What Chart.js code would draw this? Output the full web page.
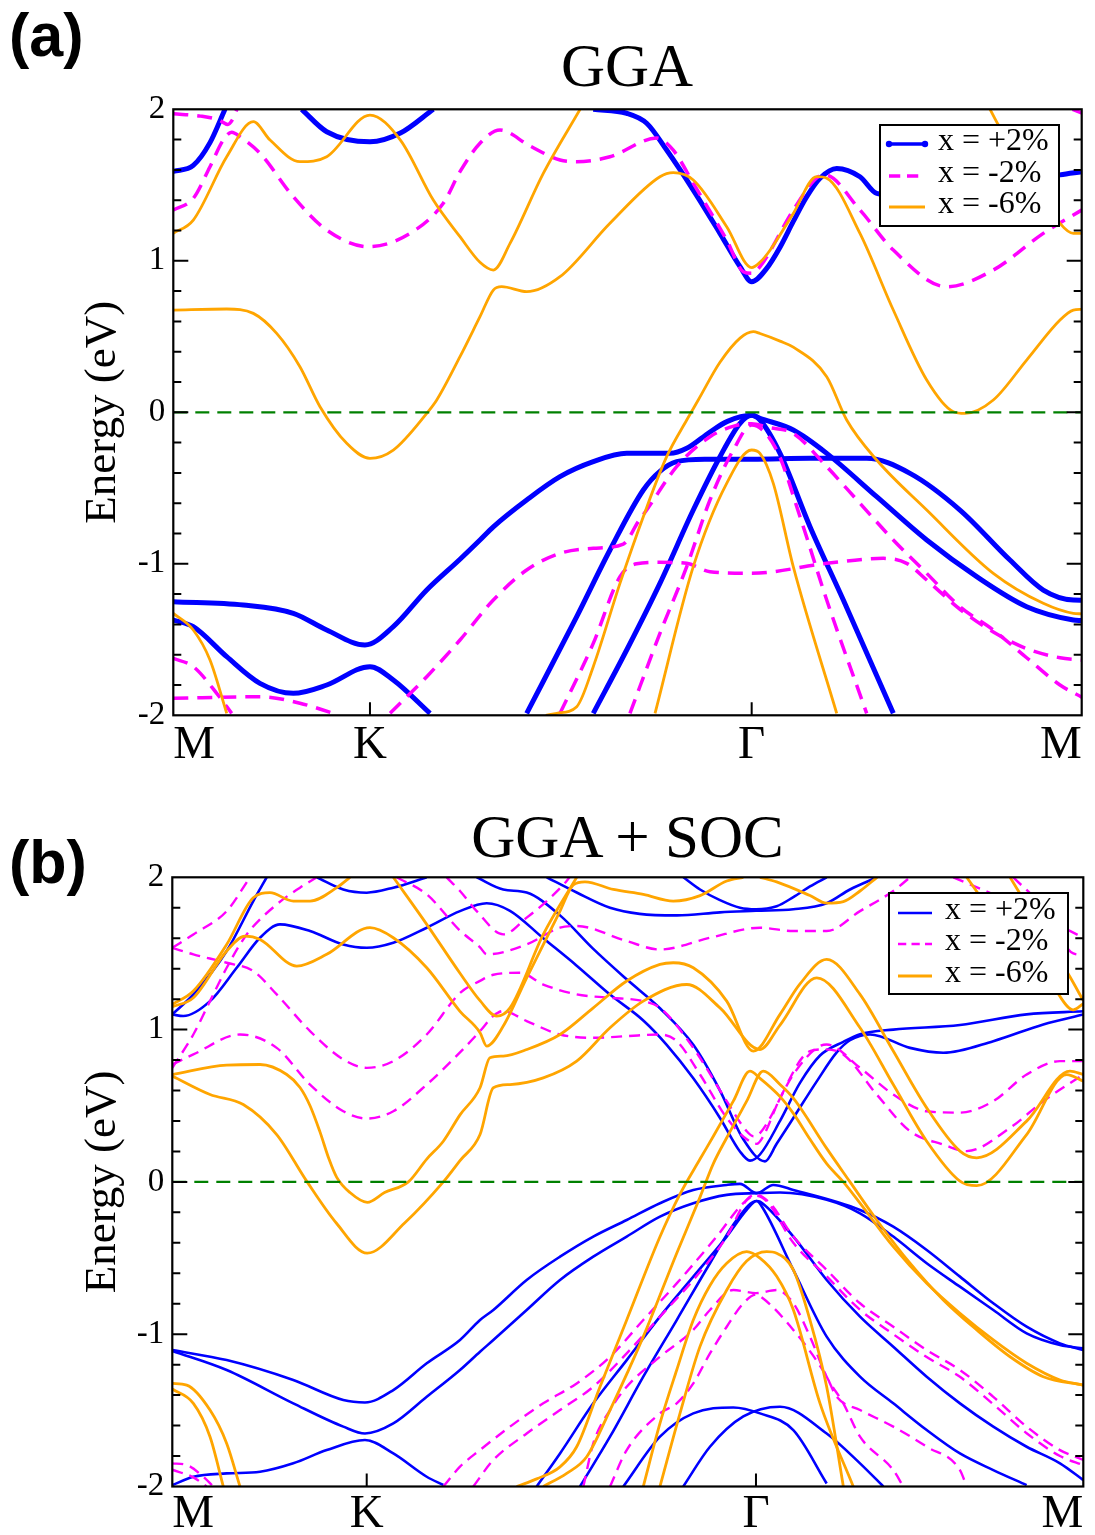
<!DOCTYPE html>
<html>
<head>
<meta charset="utf-8">
<title>Band structure: GGA and GGA + SOC</title>
<script src="https://cdn.jsdelivr.net/npm/chart.js@4.4.1/dist/chart.umd.min.js"></script>
<style>
  html, body { margin: 0; padding: 0; background: #fff; }
  #page { position: relative; width: 1095px; height: 1535px; overflow: hidden; background: #fff; }
  canvas { position: absolute; left: 0; }
  .tag { position: absolute; left: 9px; font-family: 'Liberation Sans', Arial, sans-serif; font-weight: bold; font-size: 61px; line-height: 61px; color: #000; }
  .ttl { position: absolute; font-family: 'Liberation Serif', 'Times New Roman', serif; font-size: 61px; line-height: 61px; text-align: center; color: #000; white-space: nowrap; }
  .legend { position: absolute; border: 2px solid #000; background: #fff; box-sizing: border-box; }
  .legend .row { position: absolute; left: 0; right: 0; height: 32px; }
  .legend svg { position: absolute; }
  .legend span { position: absolute; font-family: 'Liberation Serif', 'Times New Roman', serif; font-size: 32px; line-height: 32px; color: #000; white-space: nowrap; }
</style>
</head>
<body>
<div id="page">
  <canvas id="gga" width="1095" height="770" style="top:0px"></canvas>
  <canvas id="soc" width="1095" height="765" style="top:770px"></canvas>
  <div class="tag" style="top:5px">(a)</div>
  <div class="tag" style="top:832px">(b)</div>
  <div class="ttl" style="left:173px;width:908px;top:35px">GGA</div>
  <div class="ttl" style="left:172px;width:911px;top:806px">GGA + SOC</div>
  <div class="legend" id="legGGA" style="left:879px;top:124px;width:181px;height:103px"></div>
  <div class="legend" id="legSOC" style="left:888px;top:892px;width:181px;height:103px"></div>
</div>
<script>
// k-path: distance along M-K-Γ-M in percent of the full path length
const K_LABELS = ['M', 'K', 'Γ', 'M'];
const K_POS_GGA = [0, 21.65, 63.67, 100];
const K_POS_SOC = [0, 21.34, 64.07, 100];
const Y_TICKS = [-2, -1, 0, 1, 2];
const Y_TICK_LABELS = ['-2', '-1', '0', '1', '2'];
const SERIES = ['x = +2%', 'x = -2%', 'x = -6%'];
const ZERO_LINE = [[0, 0], [100, 0]];

// ---- (a) GGA: bands as [k, E(eV)] ----
const GGA_P2 = [
  [[0,1.59],[2.2,1.63],[4.04,1.78],[5.69,2.0]],
  [[14.13,2.0],[16.89,1.852],[21.65,1.785],[25.0,1.843],[28.62,2.0]],
  [[46.23,2.0],[49.91,1.974],[52.11,1.908],[54.31,1.731],[57.24,1.467],[60.18,1.181],[62.39,0.961],[63.67,0.862],[65.32,0.95],[66.79,1.09],[68.25,1.26],[69.7,1.42],[71.19,1.545],[73.03,1.61],[75.59,1.555],[77.43,1.445],[86.0,1.40],[97.61,1.567],[100,1.588]],
  [[0,-1.25],[7.71,-1.272],[13.21,-1.327],[16.89,-1.437],[21.1,-1.536],[24.22,-1.415],[27.9,-1.173],[31.56,-0.97],[33.76,-0.843],[35.23,-0.756],[38.9,-0.579],[42.57,-0.425],[46.23,-0.326],[49.91,-0.271],[54.68,-0.271],[56.52,-0.238],[59.08,-0.13],[61.0,-0.06],[63.67,-0.02],[64.58,-0.04],[68.25,-0.117],[71.93,-0.271],[77.43,-0.557],[82.94,-0.843],[88.44,-1.085],[93.94,-1.283],[99.08,-1.371],[100,-1.375]],
  [[38.9,-1.987],[44.41,-1.349],[48.07,-0.909],[51.74,-0.513],[53.57,-0.39],[55.41,-0.326],[58.5,-0.31],[63.67,-0.31],[70.09,-0.304],[76.33,-0.304],[81.1,-0.403],[86.6,-0.645],[92.1,-0.975],[95.77,-1.173],[99.08,-1.239],[100,-1.24]],
  [[46.23,-1.987],[49.91,-1.569],[53.57,-1.129],[57.24,-0.645],[60.18,-0.293],[62.39,-0.073],[63.67,-0.02],[64.58,-0.051],[66.79,-0.271],[70.09,-0.755],[73.76,-1.239],[79.26,-1.987]],
  [[0,-1.371],[2.2,-1.415],[5.88,-1.613],[9.54,-1.789],[13.21,-1.855],[16.89,-1.8],[21.65,-1.679],[24.22,-1.767],[28.26,-1.987]]
];
const GGA_M2 = [
  [[0,1.97],[3.0,1.955],[5.0,1.93],[6.0,1.9],[6.5,1.93],[7.0,2.0]],
  [[99.0,2.0],[100,1.975]],
  [[0,1.335],[2.2,1.412],[4.04,1.621],[5.5,1.797],[6.43,1.848],[7.34,1.819],[9.54,1.71],[13.21,1.423],[16.89,1.203],[21.5,1.093],[26.06,1.181],[29.72,1.38],[31.56,1.588],[33.76,1.776],[35.97,1.863],[39.2,1.76],[42.57,1.665],[44.41,1.654],[48.07,1.687],[53.21,1.81],[55.04,1.73],[57.24,1.512],[60.92,1.137],[62.75,0.928],[63.67,0.917],[64.58,0.961],[68.25,1.335],[71.0,1.555],[71.74,1.566],[75.59,1.335],[79.26,1.071],[85.14,0.829],[90.27,0.939],[95.77,1.181],[100,1.335]],
  [[23.86,-1.987],[27.9,-1.745],[31.56,-1.503],[35.23,-1.239],[38.9,-1.041],[42.57,-0.931],[46.23,-0.898],[49.54,-0.87],[51.2,-0.72],[52.11,-0.645],[55.41,-0.359],[59.08,-0.161],[61.8,-0.09],[63.67,-0.075],[65.5,-0.1],[68.25,-0.139],[71.93,-0.359],[75.59,-0.601],[79.26,-0.843],[82.94,-1.063],[86.6,-1.283],[90.27,-1.437],[93.94,-1.62],[97.61,-1.8],[100,-1.88]],
  [[42.57,-1.987],[46.23,-1.525],[49.17,-1.085],[51.0,-1.0],[53.5,-0.99],[56.52,-0.997],[59.08,-1.052],[63.67,-1.063],[71.93,-0.997],[78.16,-0.964],[80.73,-0.997],[82.94,-1.107],[86.6,-1.3],[90.27,-1.45],[93.94,-1.56],[97.61,-1.62],[100,-1.635]],
  [[50.27,-1.987],[53.57,-1.459],[56.52,-1.019],[59.08,-0.579],[61.65,-0.249],[63.67,-0.084],[66.42,-0.249],[68.99,-0.689],[71.93,-1.239],[76.33,-1.987]],
  [[0,-1.624],[2.2,-1.679],[4.78,-1.855],[6.43,-1.987]],
  [[0,-1.888],[9.54,-1.877],[13.94,-1.92],[17.61,-1.987]]
];
const GGA_M6 = [
  [[0,1.181],[2.2,1.269],[5.88,1.687],[8.81,1.918],[10.65,1.797],[13.94,1.654],[16.89,1.687],[21.65,1.962],[25.0,1.797],[28.62,1.401],[31.56,1.159],[33.76,0.99],[35.23,0.939],[37.07,1.115],[40.73,1.577],[44.78,2.0]],
  [[89.91,2.0],[90.83,1.896],[97.61,1.247],[99.08,1.181],[100,1.181]],
  [[0,0.675],[5.88,0.682],[8.81,0.653],[11.38,0.521],[13.94,0.301],[16.15,0.037],[19.09,-0.205],[21.65,-0.304],[24.22,-0.249],[27.9,-0.007],[29.0,0.081],[31.56,0.367],[33.76,0.631],[35.23,0.807],[36.15,0.829],[38.9,0.796],[42.57,0.895],[48.07,1.248],[53.57,1.555],[55.04,1.582],[57.24,1.533],[60.92,1.225],[63.67,0.955],[64.58,0.99],[65.69,1.07],[68.25,1.313],[70.83,1.555],[71.93,1.545],[75.59,1.181],[79.26,0.675],[82.94,0.213],[85.87,0.004],[87.15,-0.007],[90.27,0.081],[93.94,0.345],[97.61,0.609],[99.08,0.675],[100,0.68]],
  [[0,-1.327],[2.2,-1.437],[4.04,-1.635],[5.88,-1.987]],
  [[41.0,-2.0],[42.21,-1.987],[44.41,-1.943],[46.23,-1.679],[49.17,-1.129],[51.74,-0.689],[54.31,-0.293],[56.52,-0.051],[57.79,0.081],[60.18,0.33],[62.39,0.49],[63.85,0.532],[64.58,0.52],[66.79,0.47],[68.25,0.43],[71.93,0.235],[74.13,-0.051],[77.43,-0.315],[82.94,-0.645],[90.27,-1.063],[95.77,-1.261],[99.08,-1.327],[100,-1.33]],
  [[53.03,-1.987],[57.24,-1.019],[60.92,-0.469],[63.67,-0.249],[64.58,-0.271],[66.05,-0.469],[68.25,-1.019],[73.03,-1.987]]
];

// ---- (b) GGA + SOC ----
const SOC_P2 = [
  [[0,1.1],[2.31,1.231],[5.97,1.516],[8.89,1.844],[10.36,2.0]],
  [[0,1.099],[1.21,1.089],[4.14,1.187],[7.07,1.406],[9.63,1.603],[11.82,1.691],[15.12,1.647],[18.77,1.559],[21.34,1.537],[24.26,1.57],[27.93,1.669],[31.58,1.778],[34.51,1.83],[37.07,1.78],[40.72,1.6],[44.39,1.42],[48.05,1.23],[51.7,1.06],[54.27,0.9],[57.19,0.68],[60.12,0.42],[62.31,0.2],[63.41,0.14],[64.51,0.18],[66.71,0.4],[68.9,0.65],[71.1,0.83],[73.66,0.92],[75.49,0.97],[79.14,1.0],[86.46,1.03],[93.78,1.1],[100,1.12]],
  [[33.41,2.0],[36.33,1.92],[38.9,1.9],[42.56,1.75],[46.21,1.53],[49.88,1.33],[53.53,1.14],[57.19,0.9],[60.12,0.6],[62.68,0.28],[65.06,0.135],[66.34,0.25],[68.17,0.42],[70.74,0.66],[72.93,0.85],[74.39,0.93],[76.59,0.968],[80.98,0.88],[84.63,0.848],[90.12,0.924],[95.61,1.034],[100,1.099]],
  [[15.85,2.0],[18.77,1.92],[21.34,1.899],[24.26,1.932],[27.93,2.0]],
  [[41.1,2.0],[44.39,1.9],[48.05,1.8],[51.3,1.76],[55.4,1.75],[60.12,1.77],[64.07,1.78],[68.17,1.79],[71.83,1.83],[74.39,1.92],[77.35,2.0]],
  [[56.1,2.0],[57.93,1.92],[60.12,1.85],[62.31,1.8],[64.07,1.79],[66.34,1.81],[68.17,1.87],[70.0,1.94],[71.83,2.0]],
  [[0,-1.104],[5.97,-1.17],[13.28,-1.301],[18.77,-1.432],[21.15,-1.448],[24.26,-1.367],[27.93,-1.191],[31.58,-1.038],[33.78,-0.907],[35.24,-0.841],[38.9,-0.644],[42.56,-0.491],[46.21,-0.359],[49.88,-0.25],[53.53,-0.14],[57.19,-0.053],[60.86,-0.02],[62.31,-0.013],[64.15,-0.074],[65.97,-0.02],[68.17,-0.053],[75.49,-0.184],[79.14,-0.294],[82.81,-0.447],[86.46,-0.622],[90.12,-0.797],[93.78,-0.951],[97.44,-1.06],[100,-1.104]],
  [[0,-1.11],[5.97,-1.235],[13.28,-1.454],[18.77,-1.607],[21.15,-1.652],[24.26,-1.586],[27.93,-1.411],[31.58,-1.235],[33.78,-1.115],[35.24,-1.038],[38.9,-0.841],[42.56,-0.644],[46.21,-0.491],[49.88,-0.359],[53.53,-0.228],[57.19,-0.14],[60.86,-0.085],[64.15,-0.074],[66.71,-0.07],[71.83,-0.118],[75.49,-0.206],[79.14,-0.359],[82.81,-0.534],[86.46,-0.688],[90.12,-0.841],[93.78,-0.994],[97.44,-1.071],[100,-1.093]],
  [[0,-1.991],[2.31,-1.936],[5.97,-1.914],[9.63,-1.903],[13.28,-1.848],[16.95,-1.761],[21.15,-1.695],[24.26,-1.783],[27.93,-1.936],[29.75,-1.99]],
  [[40.0,-2.0],[42.56,-1.783],[46.21,-1.454],[49.88,-1.17],[53.53,-0.885],[57.19,-0.622],[60.86,-0.359],[63.05,-0.184],[64.15,-0.125],[64.51,-0.13],[68.17,-0.359],[71.83,-0.644],[75.49,-0.885],[79.14,-1.082],[82.81,-1.279],[86.46,-1.454],[90.12,-1.607],[93.78,-1.739],[97.44,-1.848],[100,-1.958]],
  [[44.75,-2.0],[48.05,-1.673],[51.7,-1.279],[55.37,-0.907],[59.02,-0.534],[61.95,-0.25],[64.15,-0.125],[64.8,-0.17],[68.17,-0.578],[71.83,-1.016],[75.49,-1.279],[79.14,-1.454],[82.81,-1.629],[86.46,-1.783],[90.12,-1.892],[93.78,-1.991]],
  [[49.51,-2.0],[53.53,-1.673],[57.19,-1.52],[61.58,-1.481],[64.51,-1.52],[68.17,-1.63],[71.83,-1.98]],
  [[56.09,-2.0],[59.02,-1.739],[62.68,-1.54],[66.71,-1.476],[71.83,-1.652],[75.49,-1.848],[78.05,-2.0]]
];
const SOC_M2 = [
  [[0,1.537],[2.31,1.625],[5.97,1.778],[8.53,2.0]],
  [[0,1.537],[2.31,1.494],[5.97,1.439],[8.89,1.384],[11.46,1.231],[15.12,0.99],[18.77,0.804],[21.34,0.749],[24.26,0.793],[27.93,0.968],[31.58,1.24],[33.78,1.32],[35.24,1.36],[38.17,1.373],[40.72,1.296],[44.39,1.231],[48.05,1.209],[51.7,1.187],[53.53,1.143],[57.19,0.88],[60.86,0.53],[63.05,0.333],[63.78,0.3],[64.51,0.32],[68.17,0.705],[70.74,0.88],[71.83,0.902],[75.49,0.749],[79.14,0.574],[82.81,0.464],[86.46,0.455],[90.12,0.53],[93.78,0.705],[97.44,0.793],[100,0.793]],
  [[0,0.771],[2.31,0.837],[7.43,0.968],[11.46,0.88],[15.12,0.639],[18.77,0.464],[21.34,0.416],[24.26,0.464],[27.93,0.639],[31.58,0.85],[33.78,0.99],[35.24,1.09],[36.33,1.122],[38.9,1.056],[42.56,0.968],[46.21,0.946],[49.88,0.957],[53.53,0.968],[55.37,0.924],[57.93,0.705],[60.86,0.42],[63.05,0.28],[64.15,0.25],[64.87,0.3],[66.71,0.55],[70.0,0.859],[71.5,0.87],[73.66,0.837],[77.32,0.574],[80.98,0.333],[84.63,0.245],[87.2,0.202],[91.96,0.355],[95.61,0.53],[100,0.705]],
  [[0,0.749],[2.31,0.968],[4.14,1.187],[5.97,1.406],[8.17,1.625],[11.46,1.822],[14.02,1.932],[15.85,2.0]],
  [[24.63,2.0],[27.93,1.888],[31.58,1.65],[33.78,1.54],[34.51,1.494],[38.9,1.559],[42.56,1.669],[44.39,1.68],[49.88,1.581],[53.53,1.526],[59.02,1.603],[64.51,1.669],[68.17,1.647],[71.83,1.647],[75.49,1.778],[79.14,1.91],[80.98,2.0]],
  [[30.12,2.0],[31.58,1.91],[33.41,1.778],[36.33,1.625],[38.9,1.735],[41.1,1.844],[43.29,1.976],[43.6,2.0]],
  [[85.73,2.0],[90.12,1.888],[95.61,1.735],[99.28,1.625],[100,1.603]],
  [[92.32,2.0],[95.61,1.8],[98.9,1.5],[100,1.49]],
  [[33.04,-2.0],[35.24,-1.826],[38.9,-1.652],[42.56,-1.498],[46.21,-1.345],[49.88,-1.126],[53.53,-0.885],[57.19,-0.644],[60.86,-0.359],[63.05,-0.118],[64.07,-0.085],[65.61,-0.14],[68.17,-0.359],[71.83,-0.578],[75.49,-0.797],[79.14,-0.951],[82.81,-1.104],[86.46,-1.235],[90.12,-1.411],[93.78,-1.607],[97.44,-1.761],[100,-1.826]],
  [[29.75,-2.0],[31.58,-1.87],[33.78,-1.76],[37.07,-1.607],[40.72,-1.454],[44.39,-1.323],[48.05,-1.148],[51.7,-0.907],[55.37,-0.666],[59.76,-0.359],[62.68,-0.14],[64.07,-0.09],[65.3,-0.13],[68.17,-0.4],[71.83,-0.62],[75.49,-0.84],[79.14,-1.0],[82.81,-1.15],[86.46,-1.28],[90.12,-1.46],[93.78,-1.65],[97.44,-1.8],[100,-1.86]],
  [[45.12,-2.0],[46.21,-1.717],[48.05,-1.498],[49.88,-1.345],[53.53,-1.148],[57.19,-0.972],[59.02,-0.841],[61.58,-0.71],[64.07,-0.73],[66.34,-0.71],[68.17,-0.797],[70.0,-1.016],[71.83,-1.279],[73.66,-1.454],[75.49,-1.673],[79.14,-1.892],[80.24,-2.0]],
  [[48.05,-2.0],[49.88,-1.761],[53.53,-1.52],[55.37,-1.454],[57.19,-1.323],[59.02,-1.126],[60.86,-0.951],[62.68,-0.797],[64.07,-0.74],[64.51,-0.75],[68.17,-0.972],[71.83,-1.279],[72.93,-1.411],[75.49,-1.498],[79.14,-1.607],[82.81,-1.739],[86.46,-1.892],[87.2,-2.0]],
  [[0,-1.848],[1.58,-1.859],[3.4,-1.936],[4.5,-2.0]],
  [[0,-1.89],[2.31,-1.94],[3.76,-2.0]]
];
const SOC_M6 = [
  [[0,1.165],[2.31,1.253],[5.97,1.559],[8.89,1.866],[10.72,1.899],[13.28,1.844],[15.12,1.844],[18.05,1.932],[19.51,2.0]],
  [[0,1.15],[2.31,1.209],[5.97,1.516],[7.98,1.614],[9.63,1.592],[13.66,1.417],[16.95,1.494],[21.7,1.669],[24.26,1.603],[27.93,1.406],[31.58,1.12],[33.78,0.98],[34.51,0.892],[36.33,1.023],[38.9,1.34],[42.56,1.778],[44.02,1.95],[45.3,1.97],[48.41,1.92],[51.7,1.888],[54.99,1.844],[57.93,1.88],[60.86,1.976],[62.68,2.0]],
  [[24.26,2.0],[27.93,1.691],[31.58,1.37],[33.78,1.19],[35.61,1.089],[37.07,1.143],[40.72,1.625],[44.39,2.0]],
  [[0,0.705],[5.97,0.767],[9.63,0.771],[12.56,0.705],[14.02,0.62],[15.12,0.5],[16.2,0.33],[17.2,0.15],[18.05,0.03],[19.5,-0.07],[21.4,-0.134],[23.3,-0.07],[25.91,0.0],[27.93,0.15],[29.75,0.267],[31.58,0.44],[33.78,0.618],[34.87,0.815],[36.33,0.826],[38.9,0.869],[42.56,0.968],[46.21,1.143],[49.88,1.319],[53.53,1.428],[54.99,1.439],[57.19,1.406],[60.86,1.187],[63.78,0.859],[66.71,1.1],[68.9,1.3],[71.83,1.461],[75.49,1.231],[79.14,0.859],[82.81,0.486],[86.46,0.202],[88.3,0.158],[93.78,0.399],[98.54,0.727],[100,0.705]],
  [[0,0.695],[4.14,0.574],[7.79,0.508],[11.46,0.311],[14.75,0.005],[18.0,-0.27],[21.4,-0.468],[25.5,-0.27],[29.75,0.0],[31.58,0.14],[33.78,0.311],[35.24,0.618],[37.07,0.639],[40.72,0.683],[44.39,0.793],[48.05,1.012],[51.7,1.187],[56.47,1.296],[60.12,1.143],[64.51,0.869],[66.71,1.03],[70.74,1.34],[75.49,1.012],[79.14,0.639],[82.81,0.267],[86.46,0.005],[88.3,-0.025],[93.78,0.311],[98.18,0.705],[100,0.662]],
  [[37.8,-2.0],[40.0,-1.95],[42.56,-1.871],[44.39,-1.739],[46.95,-1.345],[49.88,-0.907],[53.53,-0.36],[55.73,-0.08],[57.93,0.15],[59.39,0.3],[61.58,0.53],[63.41,0.727],[64.51,0.68],[66.71,0.56],[68.17,0.45],[70.0,0.28],[71.83,0.12],[73.66,0.0],[75.49,-0.14],[79.14,-0.425],[82.81,-0.666],[86.46,-0.863],[90.12,-1.038],[93.78,-1.191],[97.44,-1.301],[100,-1.334]],
  [[40.72,-2.0],[43.29,-1.914],[45.49,-1.805],[48.05,-1.498],[51.7,-1.016],[55.37,-0.468],[57.93,-0.1],[59.39,0.12],[60.86,0.29],[63.05,0.53],[64.87,0.727],[66.71,0.64],[68.17,0.55],[71.83,0.22],[74.39,0.0],[77.32,-0.25],[80.98,-0.534],[84.63,-0.775],[88.3,-0.972],[91.96,-1.148],[95.61,-1.279],[100,-1.334]],
  [[0,-1.323],[1.58,-1.334],[4.14,-1.498],[5.97,-1.717],[7.43,-2.0]],
  [[0,-1.36],[2.31,-1.454],[4.14,-1.673],[5.6,-2.0]],
  [[51.7,-2.0],[53.53,-1.586],[55.37,-1.235],[57.19,-0.907],[59.02,-0.68],[60.86,-0.534],[63.05,-0.458],[64.51,-0.5],[66.34,-0.62],[68.17,-0.84],[71.1,-1.454],[74.75,-2.0]],
  [[53.53,-2.0],[55.73,-1.52],[57.93,-1.08],[60.86,-0.71],[63.05,-0.52],[65.25,-0.458],[66.34,-0.468],[68.17,-0.578],[70.0,-0.907],[71.83,-1.345],[73.66,-2.0]],
  [[64.51,2.0],[66.34,1.97],[70.0,1.88],[71.83,1.83],[73.66,1.84],[75.49,1.91],[77.35,2.0]],
  [[87.2,2.0],[92.0,1.6],[96.5,1.3],[98.9,1.13],[100,1.17]],
  [[91.96,2.0],[96.0,1.6],[98.5,1.35],[100,1.19]]
];

// ---- styles ----
const SERIF = "'Liberation Serif', 'Times New Roman', serif";
const ZERO_STYLE = { color: '#008000', width: 2.2, dash: [14, 8] };
const STYLE_GGA = [
  { color: '#0000ff', width: 5, dash: [], dots: true },
  { color: '#ff00ff', width: 3.5, dash: [15, 9] },
  { color: '#ffa500', width: 2.8, dash: [] }
];
const STYLE_SOC = [
  { color: '#0000ff', width: 2.6, dash: [] },
  { color: '#ff00ff', width: 2.4, dash: [11, 7] },
  { color: '#ffa500', width: 2.8, dash: [] }
];

function toSets(bands, st) {
  return bands.map(b => ({
    data: b.map(([x, y]) => ({ x, y })),
    borderColor: st.color,
    borderWidth: st.width,
    borderDash: st.dash,
    borderCapStyle: 'butt',
    borderJoinStyle: 'round',
    pointRadius: 0,
    fill: false,
    cubicInterpolationMode: 'monotone'
  }));
}

// frame around the plot area plus inward tick marks
const frameTicks = {
  id: 'frameTicks',
  afterDatasetsDraw(chart, args, opts) {
    const { ctx, chartArea: a, scales: { x, y } } = chart;
    ctx.save();
    ctx.strokeStyle = '#000';
    ctx.lineWidth = 2;
    ctx.setLineDash([]);
    ctx.beginPath();
    for (let i = -9; i <= 9; i++) {
      const py = y.getPixelForValue(i / 5);
      const len = (i % 5 === 0) ? 15 : 8;
      ctx.moveTo(a.left, py); ctx.lineTo(a.left + len, py);
      ctx.moveTo(a.right, py); ctx.lineTo(a.right - len, py);
    }
    opts.kpos.slice(1, -1).forEach(v => {
      const px = x.getPixelForValue(v);
      ctx.moveTo(px, a.bottom); ctx.lineTo(px, a.bottom - 13);
    });
    ctx.stroke();
    ctx.lineWidth = 2.2;
    ctx.strokeRect(a.left, a.top, a.right - a.left, a.bottom - a.top);
    ctx.restore();
  }
};

function makePanel(cfg) {
  const datasets = [
    { data: ZERO_LINE.map(([x, y]) => ({ x, y })), borderColor: ZERO_STYLE.color, borderWidth: ZERO_STYLE.width,
      borderDash: ZERO_STYLE.dash, pointRadius: 0, fill: false },
    ...toSets(cfg.bands[2], cfg.style[2]),
    ...toSets(cfg.bands[1], cfg.style[1]),
    ...toSets(cfg.bands[0], cfg.style[0])
  ];
  return new Chart(document.getElementById(cfg.id), {
    type: 'line',
    data: { datasets },
    options: {
      responsive: false,
      animation: false,
      devicePixelRatio: 1,
      events: [],
      layout: { padding: { left: 0, right: cfg.padRight, top: cfg.padTop, bottom: 0 } },
      plugins: {
        legend: { display: false },
        tooltip: { enabled: false },
        frameTicks: { kpos: cfg.kpos }
      },
      scales: {
        x: {
          type: 'linear', min: 0, max: 100,
          grid: { display: false, drawTicks: false },
          border: { display: false },
          afterFit: s => { s.height = cfg.xHeight; },
          afterBuildTicks: s => { s.ticks = cfg.kpos.map(v => ({ value: v })); },
          ticks: {
            autoSkip: false, maxRotation: 0, minRotation: 0, align: 'inner',
            padding: cfg.xPad, color: '#000',
            font: { family: SERIF, size: 47 },
            callback: (v, i) => K_LABELS[i]
          }
        },
        y: {
          type: 'linear', min: -2, max: 2,
          grid: { display: false, drawTicks: false },
          border: { display: false },
          afterFit: s => { s.width = cfg.yWidth; },
          afterBuildTicks: s => { s.ticks = Y_TICKS.map(v => ({ value: v })); },
          ticks: {
            padding: 8, color: '#000',
            font: { family: SERIF, size: 33 },
            callback: (v, i) => Y_TICK_LABELS[i]
          },
          title: {
            display: true, text: 'Energy (eV)', color: '#000',
            font: { family: SERIF, size: 45 },
            padding: { top: 76, bottom: 0 }
          }
        }
      }
    },
    plugins: [frameTicks]
  });
}

function buildLegend(id, styles, geo) {
  const box = document.getElementById(id);
  SERIES.forEach((name, i) => {
    const st = styles[i];
    const row = document.createElement('div');
    row.className = 'row';
    row.style.top = (geo.rows[i] - 16) + 'px';
    const w = geo.lineW;
    const sw = Math.min(st.width, 3.5);
    let svg = `<svg width="${w + 8}" height="32" style="left:${geo.lineX - 4}px;top:0">` +
      `<line x1="4" y1="16" x2="${w + 4}" y2="16" stroke="${st.color}" stroke-width="${sw}"` +
      (st.dash.length ? ` stroke-dasharray="${st.dash.map(d => d * 0.75).join(' ')}"` : '') + '/>';
    if (st.dots) {
      svg += `<circle cx="4" cy="16" r="3.2" fill="${st.color}"/><circle cx="${w + 4}" cy="16" r="3.2" fill="${st.color}"/>`;
    }
    svg += '</svg>';
    row.innerHTML = svg + `<span style="left:${geo.textX}px;top:-5px">${name}</span>`;
    box.appendChild(row);
  });
}

makePanel({ id: 'gga', bands: [GGA_P2, GGA_M2, GGA_M6], style: STYLE_GGA, kpos: K_POS_GGA,
  padTop: 109.3, padRight: 13.3, yWidth: 173.3, xHeight: 54.7, xPad: 2 });
makePanel({ id: 'soc', bands: [SOC_P2, SOC_M2, SOC_M6], style: STYLE_SOC, kpos: K_POS_SOC,
  padTop: 107.3, padRight: 11.7, yWidth: 172.3, xHeight: 48.5, xPad: 0 });

buildLegend('legGGA', STYLE_GGA, { rows: [17.5, 50, 81], lineX: 8, lineW: 36, textX: 57 });
buildLegend('legSOC', STYLE_SOC, { rows: [19, 50, 81.5], lineX: 8, lineW: 34, textX: 55 });
</script>
</body>
</html>
